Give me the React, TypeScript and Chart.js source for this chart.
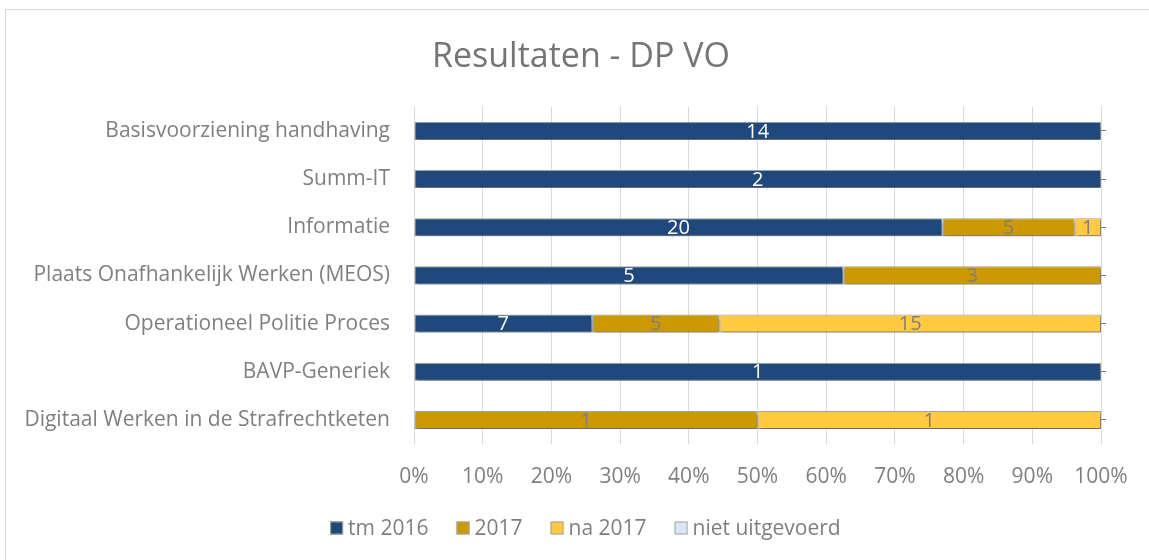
import React, { useEffect, useRef } from "react";
import { Chart, registerables } from "chart.js";

Chart.register(...registerables);

const categories = [
  "Basisvoorziening handhaving",
  "Summ-IT",
  "Informatie",
  "Plaats Onafhankelijk Werken (MEOS)",
  "Operationeel Politie Proces",
  "BAVP-Generiek",
  "Digitaal Werken in de Strafrechtketen",
];

const seriesNames = ["tm 2016", "2017", "na 2017", "niet uitgevoerd"];
const tm2016 = [14, 2, 20, 5, 7, 1, 0];
const y2017 = [0, 0, 5, 3, 5, 0, 1];
const na2017 = [0, 0, 1, 0, 15, 0, 1];
const nietUitgevoerd = [0, 0, 0, 0, 0, 0, 0];

const xTicks = [0, 10, 20, 30, 40, 50, 60, 70, 80, 90, 100];

const FONT = "'Open Sans', sans-serif";
const TEXT = "#7f7f7f";

export default function App() {
  const ref = useRef<HTMLCanvasElement>(null);

  useEffect(() => {
    if (!ref.current) return;
    const raw = [tm2016, y2017, na2017, nietUitgevoerd];
    const totals = categories.map((_, i) => raw.reduce((s, a) => s + a[i], 0));
    const pct = (arr: number[]) => arr.map((v, i) => (totals[i] ? (v / totals[i]) * 100 : 0));
    const fills = ["#1f497d", "#cc9900", "#ffc940", "#dce6f2"];
    const labelColors = ["#ffffff", TEXT, TEXT, TEXT];

    const shadowPlugin = {
      id: "shadow",
      beforeDatasetsDraw(chart: any) {
        const ctx = chart.ctx;
        ctx.save();
        ctx.shadowColor = "rgba(0,0,0,0.4)";
        ctx.shadowBlur = 4;
        ctx.shadowOffsetX = 1;
        ctx.shadowOffsetY = 3;
      },
      afterDatasetsDraw(chart: any) {
        chart.ctx.restore();
      },
    };

    const labelPlugin = {
      id: "valueLabels",
      afterDatasetsDraw(chart: any) {
        const ctx = chart.ctx;
        ctx.save();
        ctx.font = `20px ${FONT}`;
        ctx.textAlign = "center";
        ctx.textBaseline = "middle";
        chart.data.datasets.forEach((ds: any, di: number) => {
          const meta = chart.getDatasetMeta(di);
          meta.data.forEach((bar: any, i: number) => {
            const v = raw[di][i];
            if (!v) return;
            const cx = (bar.x + bar.base) / 2;
            ctx.fillStyle = labelColors[di];
            ctx.fillText(String(v), cx, bar.y + 1);
          });
        });
        ctx.restore();
      },
    };

    const legendPlugin = {
      id: "customLegend",
      afterDraw(chart: any) {
        const ctx = chart.ctx;
        ctx.save();
        ctx.font = `21px ${FONT}`;
        const box = 13;
        const gap = 5;
        const spacing = 28;
        const widths = seriesNames.map((n) => ctx.measureText(n).width);
        const total =
          widths.reduce((s, w) => s + w, 0) + seriesNames.length * (box + gap) + (seriesNames.length - 1) * spacing;
        const cy = 518;
        let x = 579.4 - total / 2;
        ctx.textBaseline = "middle";
        ctx.textAlign = "left";
        seriesNames.forEach((n, i) => {
          ctx.fillStyle = fills[i];
          ctx.fillRect(x, cy - box / 2, box, box);
          ctx.strokeStyle = "#a6a6a6";
          ctx.lineWidth = 1;
          ctx.strokeRect(x + 0.5, cy - box / 2 + 0.5, box - 1, box - 1);
          ctx.fillStyle = TEXT;
          ctx.fillText(n, x + box + gap, cy + 1);
          x += box + gap + widths[i] + spacing;
        });
        ctx.restore();
      },
    };

    const chart = new Chart(ref.current, {
      type: "bar",
      data: {
        labels: categories,
        datasets: raw.map((arr, di) => ({
          label: seriesNames[di],
          data: pct(arr),
          backgroundColor: fills[di],
          borderColor: "#a6a6a6",
          borderWidth: 1,
          borderSkipped: false,
          barPercentage: 0.375,
          categoryPercentage: 1,
        })),
      },
      options: {
        indexAxis: "y",
        animation: false,
        responsive: false,
        maintainAspectRatio: false,
        layout: { padding: { left: 7, right: 0, top: 0, bottom: 50 } },
        plugins: {
          title: {
            display: true,
            text: "Resultaten - DP VO",
            color: "#757575",
            font: { family: FONT, size: 34, weight: "normal" },
            padding: { top: 27, bottom: 29 },
          },
          legend: { display: false },
          tooltip: { enabled: false },
        },
        scales: {
          x: {
            stacked: true,
            min: 0,
            max: 100,
            afterBuildTicks: (s: any) => {
              s.ticks = xTicks.map((v) => ({ value: v }));
            },
            afterFit: (s: any) => {
              s.height = 66;
            },
            grid: { color: "#d9d9d9", drawTicks: false, lineWidth: 1 },
            border: { display: false },
            ticks: {
              color: TEXT,
              font: { family: FONT, size: 21 },
              padding: 20,
              callback: (v: any) => v + "%",
            },
          },
          y: {
            stacked: true,
            afterFit: (s: any) => {
              s.width = 401;
            },
            grid: { display: false, drawTicks: false },
            border: { display: false },
            ticks: {
              color: TEXT,
              font: { family: FONT, size: 21 },
              padding: 24,
            },
          },
          y2: {
            type: "category",
            position: "right",
            afterFit: (s: any) => {
              s.width = 48;
            },
            grid: {
              drawOnChartArea: false,
              offset: false,
              tickLength: 5,
              color: "#7f7f7f",
            },
            border: { display: false },
            ticks: { display: false },
          },
        },
      },
      plugins: [shadowPlugin, labelPlugin, legendPlugin],
    } as any);
    return () => chart.destroy();
  }, []);

  return (
    <div
      style={{
        position: "absolute",
        left: 5,
        top: 9,
        width: 1160,
        height: 570,
        border: "1px solid #d9d9d9",
        background: "#fff",
      }}
    >
      <canvas ref={ref} width={1143} height={550} style={{ display: "block" }} />
    </div>
  );
}
